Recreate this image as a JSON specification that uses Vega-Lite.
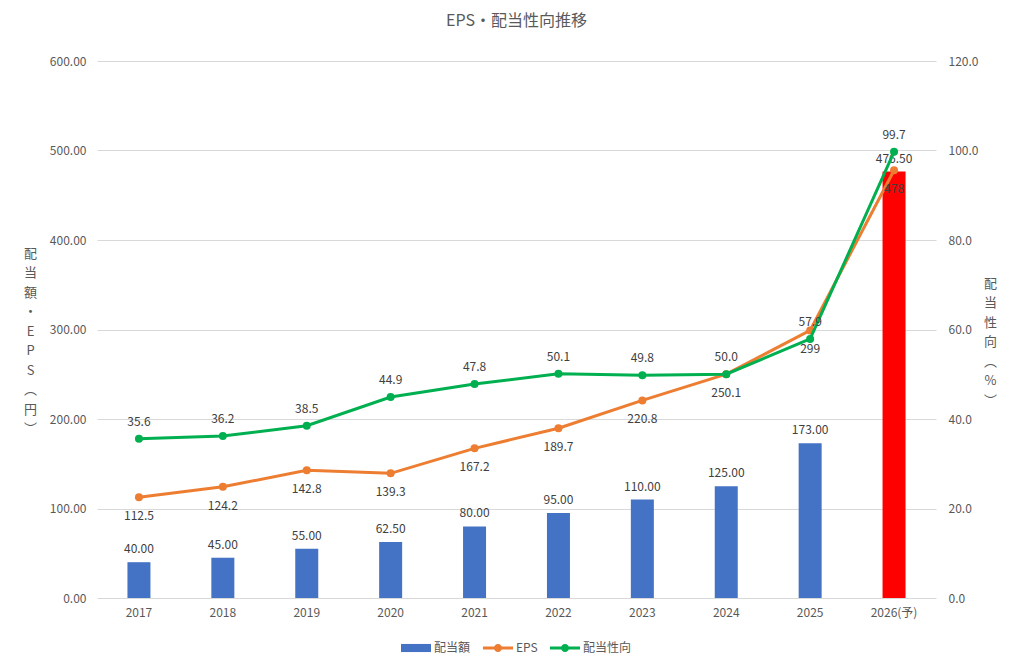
{
  "$schema": "https://vega.github.io/schema/vega-lite/v6.json",
  "description": "EPS・配当性向推移: dividend bars, EPS line and payout ratio line on a second axis.",
  "width": 839,
  "height": 537,
  "autosize": {"type": "none"},
  "padding": {"left": 97, "top": 61, "right": 88, "bottom": 71},
  "title": {
    "text": "EPS・配当性向推移",
    "fontSize": 16,
    "fontWeight": "normal",
    "color": "#595959",
    "anchor": "middle",
    "offset": 26
  },
  "data": {
    "values": [
      {"year": "2017", "dividend": 40, "eps": 112.5, "payout": 35.6},
      {"year": "2018", "dividend": 45, "eps": 124.2, "payout": 36.2},
      {"year": "2019", "dividend": 55, "eps": 142.8, "payout": 38.5},
      {"year": "2020", "dividend": 62.5, "eps": 139.3, "payout": 44.9},
      {"year": "2021", "dividend": 80, "eps": 167.2, "payout": 47.8},
      {"year": "2022", "dividend": 95, "eps": 189.7, "payout": 50.1},
      {"year": "2023", "dividend": 110, "eps": 220.8, "payout": 49.8},
      {"year": "2024", "dividend": 125, "eps": 250.1, "payout": 50.0},
      {"year": "2025", "dividend": 173, "eps": 299, "payout": 57.9},
      {"year": "2026(予)", "dividend": 476.5, "eps": 478, "payout": 99.7}
    ]
  },
  "encoding": {
    "x": {
      "field": "year",
      "type": "ordinal",
      "sort": null,
      "scale": {"paddingInner": 0, "paddingOuter": 0},
      "axis": {
        "title": null,
        "labelAngle": 0,
        "ticks": false,
        "domain": false,
        "labelPadding": 9,
        "labelFontSize": 12,
        "labelColor": "#595959"
      }
    }
  },
  "layer": [
    {
      "encoding": {
        "y": {
          "type": "quantitative",
          "scale": {"domain": [0, 600]},
          "axis": {
            "title": ["配", "当", "額", "・", "E", "P", "S", "︵", "円", "︶"],
            "titleAngle": 0,
            "titleAlign": "center",
            "titleBaseline": "middle",
            "titleX": -67,
            "titleY": 192,
            "titleLineHeight": 19.5,
            "titleFontSize": 13,
            "titleFontWeight": "normal",
            "titleColor": "#595959",
            "format": ".2f",
            "values": [0, 100, 200, 300, 400, 500, 600],
            "labelOverlap": false,
            "ticks": false,
            "domain": false,
            "grid": true,
            "gridColor": "#d9d9d9",
            "labelPadding": 11,
            "labelFontSize": 12,
            "labelColor": "#595959"
          }
        }
      },
      "layer": [
        {
          "transform": [{"filter": "datum.year !== '2026(予)'"}],
          "mark": {"type": "bar", "width": 23},
          "encoding": {
            "y": {"field": "dividend"},
            "color": {
              "datum": "配当額",
              "legend": {
                "orient": "none",
                "legendX": 304,
                "legendY": 572,
                "direction": "horizontal",
                "title": null,
                "symbolSize": 900,
                "labelFontSize": 12,
                "labelColor": "#595959",
                "columnPadding": 12,
                "labelOffset": 3,
                "encode": {
                  "symbols": {
                    "update": {
                      "shape": {
                        "signal": "datum.value === '配当額' ? 'M-1,-0.27H1V0.27H-1Z' : 'M-1,-0.1H1V0.1H-1Z M0.27,0A0.27,0.27 0 1,1 -0.27,0A0.27,0.27 0 1,1 0.27,0Z'"
                      },
                      "fill": {"scale": "color", "field": "value"},
                      "fillOpacity": {"value": 1},
                      "stroke": {"value": "transparent"},
                      "strokeWidth": {"value": 0}
                    }
                  }
                }
              }
            }
          }
        },
        {
          "transform": [{"filter": "datum.year === '2026(予)'"}],
          "mark": {"type": "bar", "width": 23, "color": "#ff0000"},
          "encoding": {"y": {"field": "dividend"}}
        },
        {
          "mark": {
            "type": "text",
            "baseline": "bottom",
            "dy": -6,
            "fontSize": 12,
            "color": "#404040"
          },
          "encoding": {
            "y": {"field": "dividend"},
            "text": {"field": "dividend", "type": "quantitative", "format": ".2f"}
          }
        },
        {
          "mark": {
            "type": "line",
            "strokeWidth": 3,
            "point": {"filled": true, "size": 64}
          },
          "encoding": {
            "y": {"field": "eps"},
            "color": {"datum": "EPS"}
          }
        },
        {
          "mark": {
            "type": "text",
            "baseline": "middle",
            "dy": 19,
            "fontSize": 12,
            "color": "#404040"
          },
          "encoding": {
            "y": {"field": "eps"},
            "text": {"field": "eps", "type": "quantitative"}
          }
        }
      ]
    },
    {
      "encoding": {
        "y": {
          "type": "quantitative",
          "scale": {"domain": [0, 120]},
          "axis": {
            "orient": "right",
            "title": ["配", "当", "性", "向", "︵", "%", "︶"],
            "titleAngle": 0,
            "titleAlign": "center",
            "titleBaseline": "middle",
            "titleX": 54,
            "titleY": 222,
            "titleLineHeight": 19.5,
            "titleFontSize": 13,
            "titleFontWeight": "normal",
            "titleColor": "#595959",
            "format": ".1f",
            "values": [0, 20, 40, 60, 80, 100, 120],
            "labelOverlap": false,
            "ticks": false,
            "domain": false,
            "grid": false,
            "labelPadding": 12,
            "labelFontSize": 12,
            "labelColor": "#595959"
          }
        }
      },
      "layer": [
        {
          "mark": {
            "type": "line",
            "strokeWidth": 3,
            "point": {"filled": true, "size": 64}
          },
          "encoding": {
            "y": {"field": "payout"},
            "color": {"datum": "配当性向"}
          }
        },
        {
          "mark": {
            "type": "text",
            "baseline": "middle",
            "dy": -17,
            "fontSize": 12,
            "color": "#404040"
          },
          "encoding": {
            "y": {"field": "payout"},
            "text": {"field": "payout", "type": "quantitative", "format": ".1f"}
          }
        }
      ]
    }
  ],
  "resolve": {"scale": {"y": "independent"}},
  "config": {
    "font": "Noto Sans CJK JP",
    "view": {"stroke": null},
    "range": {"category": ["#4472c4", "#ed7d31", "#00b050"]}
  }
}
